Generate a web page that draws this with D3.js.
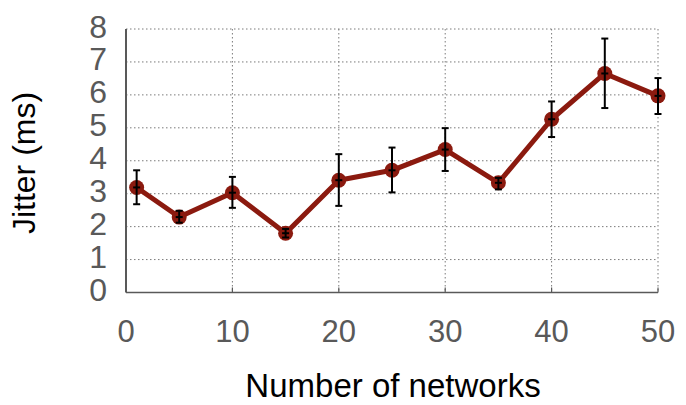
<!DOCTYPE html>
<html>
<head>
<meta charset="utf-8">
<script src="https://d3js.org/d3.v7.min.js"></script>
<style>
  body { margin: 0; background: #fff; }
  svg text { font-family: "Liberation Sans", Arial, sans-serif; }
</style>
</head>
<body>
<svg id="chart" width="686" height="405"></svg>
<script>
// data
var networks = [1, 5, 10, 15, 20, 25, 30, 35, 40, 45, 50];
var jitter   = [3.19, 2.29, 3.03, 1.80, 3.41, 3.71, 4.34, 3.33, 5.26, 6.65, 5.97];
var errLow   = [2.68, 2.12, 2.57, 1.67, 2.63, 3.04, 3.69, 3.13, 4.72, 5.60, 5.42];
var errHigh  = [3.71, 2.48, 3.51, 1.93, 4.20, 4.40, 4.99, 3.48, 5.80, 7.71, 6.51];
var xTicks = [0, 10, 20, 30, 40, 50];
var yTicks = [0, 1, 2, 3, 4, 5, 6, 7, 8];

const mLeft = 126, mRight = 658, mTop = 29, mBottom = 292.5;
var x = d3.scaleLinear().domain([0, 50]).range([mLeft, mRight]);
var y = d3.scaleLinear().domain([0, 8]).range([mBottom, mTop]);

var svg = d3.select("#chart");
var grey = "#595959";

// grid
var grid = svg.append("g")
  .attr("stroke", "#7a7a7a")
  .attr("stroke-width", 1)
  .attr("stroke-dasharray", "1.5,2.5");
grid.selectAll(".h").data(yTicks.slice(1)).enter().append("line")
  .attr("x1", mLeft).attr("x2", mRight)
  .attr("y1", d => y(d)).attr("y2", d => y(d));
grid.selectAll(".v").data(xTicks.slice(1)).enter().append("line")
  .attr("x1", d => x(d)).attr("x2", d => x(d))
  .attr("y1", mTop).attr("y2", mBottom);

// axes
svg.append("line")
  .attr("x1", mLeft).attr("x2", mLeft).attr("y1", mTop).attr("y2", mBottom)
  .attr("stroke", grey).attr("stroke-width", 2);
svg.append("line")
  .attr("x1", mLeft).attr("x2", mRight).attr("y1", mBottom).attr("y2", mBottom)
  .attr("stroke", grey).attr("stroke-width", 1.5);
svg.append("g").selectAll("line").data(xTicks.slice(1)).enter().append("line")
  .attr("x1", d => x(d)).attr("x2", d => x(d))
  .attr("y1", mBottom).attr("y2", mBottom - 5)
  .attr("stroke", grey).attr("stroke-width", 1.2);

// tick labels
svg.append("g").selectAll("text").data(yTicks).enter().append("text")
  .attr("x", 107)
  .attr("y", d => y(d) + 8.5)
  .attr("text-anchor", "end")
  .attr("font-size", 32)
  .attr("fill", grey)
  .text(d => d);
svg.append("g").selectAll("text").data(xTicks).enter().append("text")
  .attr("x", d => x(d))
  .attr("y", 341.5)
  .attr("text-anchor", "middle")
  .attr("font-size", 31)
  .attr("fill", grey)
  .text(d => d);

// axis titles
svg.append("text")
  .attr("transform", "translate(35,163) rotate(-90)")
  .attr("text-anchor", "middle")
  .attr("font-size", 32)
  .attr("fill", "#000")
  .text("Jitter (ms)");
svg.append("text")
  .attr("x", 393).attr("y", 397)
  .attr("text-anchor", "middle")
  .attr("font-size", 33)
  .attr("fill", "#000")
  .text("Number of networks");

// series
var pts = networks.map((n, i) => ({n: n, v: jitter[i], lo: errLow[i], hi: errHigh[i]}));
var red = "#8b1a0f";
svg.append("path")
  .datum(pts)
  .attr("fill", "none")
  .attr("stroke", red)
  .attr("stroke-width", 5)
  .attr("stroke-linejoin", "round")
  .attr("d", d3.line().x(d => x(d.n)).y(d => y(d.v)));
svg.append("g").selectAll("circle").data(pts).enter().append("circle")
  .attr("cx", d => x(d.n)).attr("cy", d => y(d.v))
  .attr("r", 7.5).attr("fill", red);

// error bars
var eb = svg.append("g").attr("stroke", "#000").attr("stroke-width", 2);
eb.selectAll(".bar").data(pts).enter().append("line")
  .attr("x1", d => x(d.n)).attr("x2", d => x(d.n))
  .attr("y1", d => y(d.lo)).attr("y2", d => y(d.hi));
["lo", "hi", "v"].forEach(function(k) {
  eb.selectAll(".cap-" + k).data(pts).enter().append("line")
    .attr("x1", d => x(d.n) - 3.5).attr("x2", d => x(d.n) + 3.5)
    .attr("y1", d => y(d[k])).attr("y2", d => y(d[k]));
});
</script>
</body>
</html>
